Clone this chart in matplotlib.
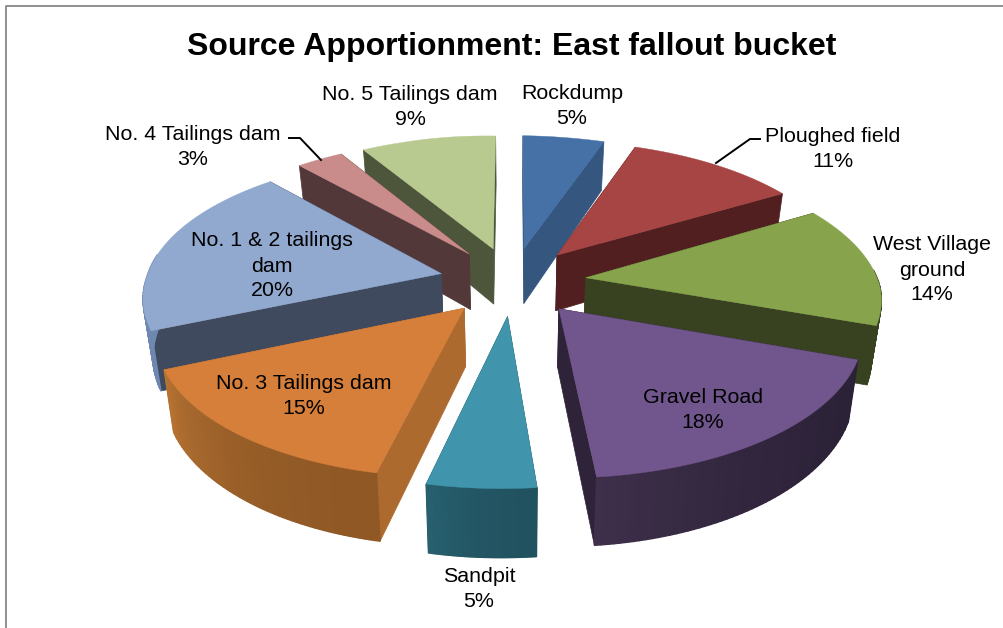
import numpy as np
import matplotlib
matplotlib.use('Agg')
import matplotlib.pyplot as plt
from matplotlib.colors import to_rgb

plt.rcParams['font.family'] = ['Liberation Sans', 'DejaVu Sans']

title = "Source Apportionment: East fallout bucket"
categories = ["Rockdump", "Ploughed field", "West Village\nground", "Gravel Road", "Sandpit",
              "No. 3 Tailings dam", "No. 1 & 2 tailings\ndam", "No. 4 Tailings dam", "No. 5 Tailings dam"]
shares = [5, 11, 14, 18, 5, 15, 20, 3, 9]

top_colors = ["#4571a6", "#a64543", "#87a34c", "#70568c", "#4095ad", "#d67f3b", "#92a9cf", "#ca8c8b", "#b8ca90"]
side_colors = ["#34567f", "#521f20", "#384120", "#2e2338", "#245463", "#ac6a2f", "#3f4a5e", "#53383a", "#4d553a"]
rim_from = ["#34567f", "#521f20", "#384120", "#2c2238", "#215260", "#8f5825", "#6f88b0", "#53383a", "#4d553a"]
rim_to = ["#34567f", "#521f20", "#384120", "#3e2f4a", "#28606f", "#b57232", "#6f88b0", "#53383a", "#4d553a"]
draw_order = [0, 8, 7, 1, 6, 2, 5, 3, 4]

label_pos = [(572, 106), (833, 149), (932, 270), (703, 410), (479, 589),
             (304, 396), (272, 266), (193, 147), (410, 107)]
leaders = {1: ([716, 750, 760], [163, 139, 139]), 7: ([321, 300, 289], [160, 138, 138])}

# tilted disc, a bit of perspective so the front looks bigger
CX, CY = 513, 281
A, B, K = 294, 137, 0.14
EXPLODE = 0.25
DEPTH = 57


def project(u, v, z=0.0):
    w = 1 + K * v
    back = 0.018 * np.maximum(v, 0) * np.minimum(1, (u / 0.45) ** 2)
    x = CX + A * (u + 0.04 * np.minimum(v, 0) + back) / w
    x = CX + (x - CX) * (1 - 0.027 * z)
    y = CY - B * (v - 0.03 * u) / w + z * DEPTH / w
    return x, y


def blend(c1, c2, t):
    a, b = np.array(to_rgb(c1)), np.array(to_rgb(c2))
    return tuple(a + (b - a) * t)


fig = plt.figure(figsize=(10.04, 6.28), dpi=100)
ax = fig.add_axes([0, 0, 1, 1])
ax.set_xlim(0, 1004)
ax.set_ylim(628, 0)
ax.axis('off')

ends = np.cumsum(shares) * 3.6
starts = ends - np.array(shares) * 3.6

for i in draw_order:
    a0, a1 = np.radians(starts[i]), np.radians(ends[i])
    mid = (a0 + a1) / 2
    pu, pv = EXPLODE * np.sin(mid), EXPLODE * np.cos(mid)
    th = np.linspace(a0, a1, 60)
    u = pu + np.sin(th)
    v = pv + np.cos(th)
    xt, yt = project(u, v)
    xb, yb = project(u, v, 1)

    # the two cut faces
    ax_t, ay_t = project(pu, pv)
    ax_b, ay_b = project(pu, pv, 1)
    for k in (0, -1):
        ax.fill([ax_t, xt[k], xb[k], ax_b], [ay_t, yt[k], yb[k], ay_b], color=side_colors[i], lw=0.5)

    # outer rim, only the part facing us, small strips for the shading
    for j in range(len(th) - 1):
        if np.cos(th[j]) > 0.1:
            continue
        t = (j / (len(th) - 2)) ** 2
        ax.fill([xt[j], xt[j + 1], xb[j + 1], xb[j]], [yt[j], yt[j + 1], yb[j + 1], yb[j]],
                color=blend(rim_from[i], rim_to[i], t), lw=1.0)

    # top
    ax.fill(np.r_[ax_t, xt], np.r_[ay_t, yt], color=top_colors[i], lw=0.3)

for i, name in enumerate(categories):
    ax.text(label_pos[i][0], label_pos[i][1], f"{name}\n{shares[i]}%", ha='center', va='center',
            fontsize=15.4, color='black', linespacing=1.4)

for i in leaders:
    ax.plot(leaders[i][0], leaders[i][1], color='black', lw=1.4)

ax.text(512, 47, title, ha='center', va='center', fontsize=23, fontweight='bold', color='black')

# chart frame, only top and left show
ax.plot([6.5, 6.5, 1004], [628, 5.5, 5.5], color='#868686', lw=1.3)

fig.savefig('out.png', dpi=100)
